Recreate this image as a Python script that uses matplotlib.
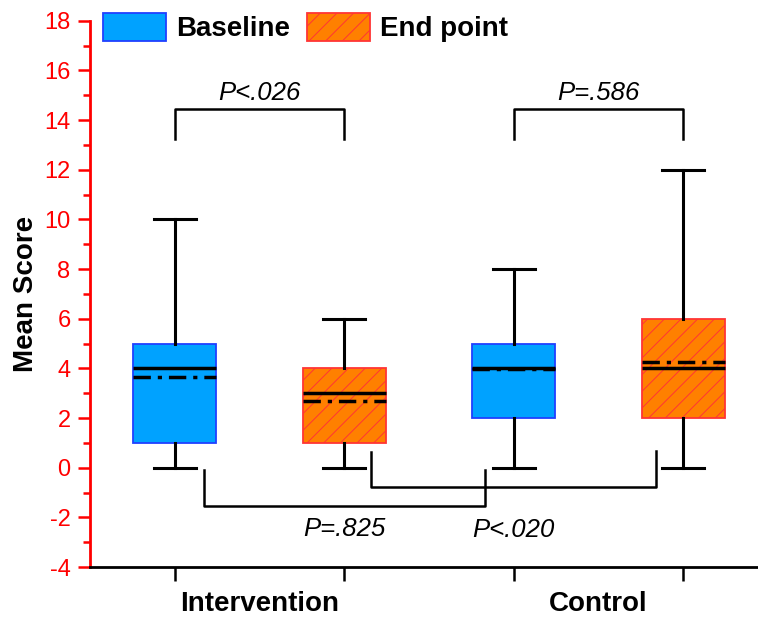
import matplotlib
matplotlib.use("Agg")
import matplotlib.pyplot as plt
from matplotlib.patches import Patch
from matplotlib.ticker import MultipleLocator

plt.rcParams['font.family'] = ['Liberation Sans', 'DejaVu Sans']
plt.rcParams['hatch.linewidth'] = 0.7
plt.rcParams['axes.unicode_minus'] = False

groups = ["Intervention", "Control"]
series = ["Baseline", "End point"]
positions = [1, 2, 3, 4]
q1 = [1, 1, 2, 2]
q3 = [5, 4, 5, 6]
medians = [4, 3, 4, 4]
means = [3.64, 2.70, 3.96, 4.25]
whislo = [0, 0, 0, 0]
whishi = [10, 6, 8, 12]
p_top = ["P<.026", "P=.586"]
p_bottom = ["P=.825", "P<.020"]

blue_face, blue_edge = "#00A2FF", "#2040FF"
orange_face, orange_edge = "#FF8000", "#FF3535"

fig = plt.figure(figsize=(7.58, 6.2), dpi=100)
ax = fig.add_axes([90/758, 53/620, 668/758, (567-20.7)/620])

stats = []
for i in range(4):
    stats.append(dict(q1=q1[i], q3=q3[i], med=medians[i], mean=means[i],
                      whislo=whislo[i], whishi=whishi[i], fliers=[]))

bp = ax.bxp(stats, positions=positions, widths=0.49, patch_artist=True,
            showmeans=True, meanline=True, showfliers=False,
            medianprops=dict(color='black', linewidth=2.5),
            meanprops=dict(color='black', linewidth=2.5, linestyle=(0, (5, 2, 1.2, 2))),
            whiskerprops=dict(color='black', linewidth=2.2),
            capprops=dict(color='black', linewidth=2.2),
            capwidths=0.25)
for i, box in enumerate(bp['boxes']):
    if i % 2 == 0:
        box.set_facecolor(blue_face)
        box.set_edgecolor(blue_edge)
        box.set_linewidth(1.3)
    else:
        box.set_facecolor(orange_face)
        box.set_edgecolor(orange_edge)
        box.set_linewidth(1.3)
        box.set_hatch('//')

ax.set_xlim(0.5, 0.5 + 668/169.5)
ax.set_ylim(-4, 18)
ax.set_xticks(positions)
ax.set_xticklabels([])
ax.yaxis.set_major_locator(MultipleLocator(2))
ax.yaxis.set_minor_locator(MultipleLocator(1))
ax.tick_params(axis='y', which='major', colors='red', labelsize=17, length=9, width=1.8, direction='out', pad=5)
ax.tick_params(axis='y', which='minor', colors='red', length=5, width=1.8, direction='out')
ax.tick_params(axis='x', which='major', length=10, width=1.8, direction='out', color='black')
for lab in ax.get_yticklabels():
    lab.set_color('red')
ax.spines['top'].set_visible(False)
ax.spines['right'].set_visible(False)
ax.spines['left'].set_color('red')
ax.spines['left'].set_linewidth(2)
ax.spines['bottom'].set_color('black')
ax.spines['bottom'].set_linewidth(2)

# group labels
for g, x in zip(groups, [1.5, 3.5]):
    ax.text(x, -5.5, g, ha='center', va='center', fontsize=20, fontweight='bold')

ax.set_ylabel("Mean Score", fontsize=20, fontweight='bold', labelpad=4)

# top brackets
lw = 1.8
for (a, b), txt in zip([(1, 2), (3, 4)], p_top):
    ax.plot([a, a, b, b], [13.25, 14.45, 14.45, 13.25], color='black', lw=lw, clip_on=False)
    ax.text((a + b) / 2, 15.1, txt, ha='center', va='center', fontsize=18.5, style='italic')

# bottom brackets
ax.plot([1.17, 1.17, 2.83, 2.83], [-0.1, -1.53, -1.53, -0.1], color='black', lw=lw)
ax.plot([2.16, 2.16, 3.84, 3.84], [0.65, -0.78, -0.78, 0.68], color='black', lw=lw)
ax.text(2.0, -2.45, p_bottom[0], ha='center', va='center', fontsize=18.5, style='italic')
ax.text(3.0, -2.5, p_bottom[1], ha='center', va='center', fontsize=18.5, style='italic')

handles = [Patch(facecolor=blue_face, edgecolor=blue_edge, linewidth=1.3),
           Patch(facecolor=orange_face, edgecolor=orange_edge, linewidth=1.3, hatch='//')]
leg = fig.legend(handles, series, loc='upper left', bbox_to_anchor=(100/758, 1 - 10/620),
                 ncol=2, frameon=False, prop=dict(size=20, weight='bold'),
                 handlelength=2.27, handleheight=1.2, handletextpad=0.36,
                 columnspacing=0.6, borderaxespad=0, borderpad=0.1)

fig.savefig("out.png", dpi=100)
